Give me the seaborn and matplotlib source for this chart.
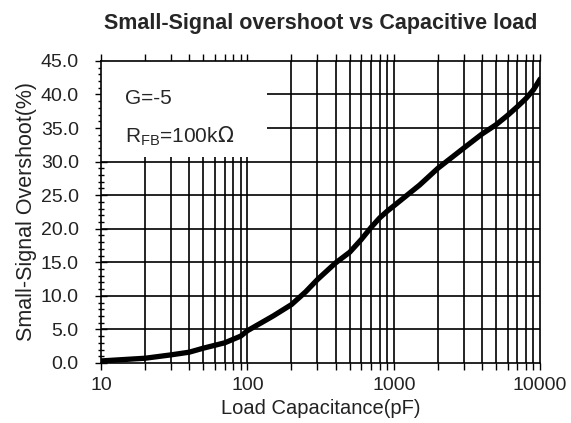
import numpy as np
import pandas as pd
import seaborn as sns
import matplotlib.pyplot as plt
from matplotlib.patches import Rectangle
from matplotlib.ticker import FixedLocator, MultipleLocator, FuncFormatter

# values
cap_pf = [10, 20, 30, 40, 50, 70, 90, 100, 150, 200, 250, 300, 400, 500, 600,
          700, 800, 900, 1000, 1500, 2000, 3000, 4000, 5000, 6000, 7000,
          8000, 9000, 10000]
overshoot = [0.3, 0.7, 1.2, 1.6, 2.2, 3.0, 4.0, 4.8, 7.0, 8.7, 10.6, 12.4,
             14.9, 16.5, 18.4, 20.2, 21.6, 22.6, 23.4, 26.5, 29.0, 32.0,
             34.1, 35.5, 36.9, 38.2, 39.4, 40.7, 42.3]
x_major = [10, 100, 1000, 10000]
y_major = [0, 5, 10, 15, 20, 25, 30, 35, 40, 45]

df = pd.DataFrame({"cap": cap_pf, "os": overshoot})

sns.set_style("ticks")
plt.rcParams['font.family'] = ['Liberation Sans', 'DejaVu Sans']

fig = plt.figure(figsize=(5.71, 4.23), dpi=100)
ax = fig.add_axes([0.177, 0.142, 0.769, 0.714])

ax.set_xscale("log")
ax.set_xlim(10, 10000)
ax.set_ylim(0, 45)

# grid drawn by hand so the label box can sit over it
minor_x = [m * d for d in [10, 100, 1000] for m in range(2, 10)]
for xv in minor_x + x_major[1:-1]:
    ax.axvline(xv, color="black", lw=1.2, zorder=0.5)
for yv in y_major[1:-1]:
    ax.axhline(yv, color="black", lw=1.2, zorder=0.5)

ax.add_patch(Rectangle((0, 0.682), 0.378, 0.318, transform=ax.transAxes,
                       facecolor="white", edgecolor="none", zorder=1))

sns.lineplot(data=df, x="cap", y="os", color="black", lw=3.8, ax=ax, zorder=3)

ax.xaxis.set_major_locator(FixedLocator(x_major))
ax.xaxis.set_minor_locator(FixedLocator(minor_x))
ax.xaxis.set_major_formatter(FuncFormatter(lambda v, p: f"{int(v)}"))
ax.yaxis.set_major_locator(FixedLocator(y_major))
ax.yaxis.set_minor_locator(MultipleLocator(1))
ax.yaxis.set_major_formatter(FuncFormatter(lambda v, p: f"{v:.1f}"))

ax.tick_params(axis="both", which="both", colors="black", labelcolor="#222222",
               labelsize=14, width=1)
ax.tick_params(axis="x", which="major", direction="out", length=5, pad=5)
ax.tick_params(axis="x", which="minor", direction="out", length=5)
ax.tick_params(axis="x", which="both", top=True, labeltop=False)
ax.tick_params(axis="y", which="major", direction="inout", length=8, pad=12)
ax.tick_params(axis="y", which="minor", direction="inout", length=5)

for s in ax.spines.values():
    s.set_visible(True)
    s.set_linewidth(1.2)
    s.set_color("black")

ax.set_xlabel("Load Capacitance(pF)", fontsize=14.5, color="#222222", labelpad=4)
ax.set_ylabel("Small-Signal Overshoot(%)", fontsize=15.5, color="#222222", labelpad=3)
ax.set_title("Small-Signal overshoot vs Capacitive load", fontsize=15.5,
             fontweight="bold", pad=23)

ax.text(0.055, 0.875, "G=-5", transform=ax.transAxes, fontsize=15,
        va="center", zorder=4)
ax.text(0.055, 0.75, r"R$_{\mathregular{FB}}$=100k$\Omega$", transform=ax.transAxes,
        fontsize=15, va="center", zorder=4)

fig.savefig("out.png", dpi=100)
